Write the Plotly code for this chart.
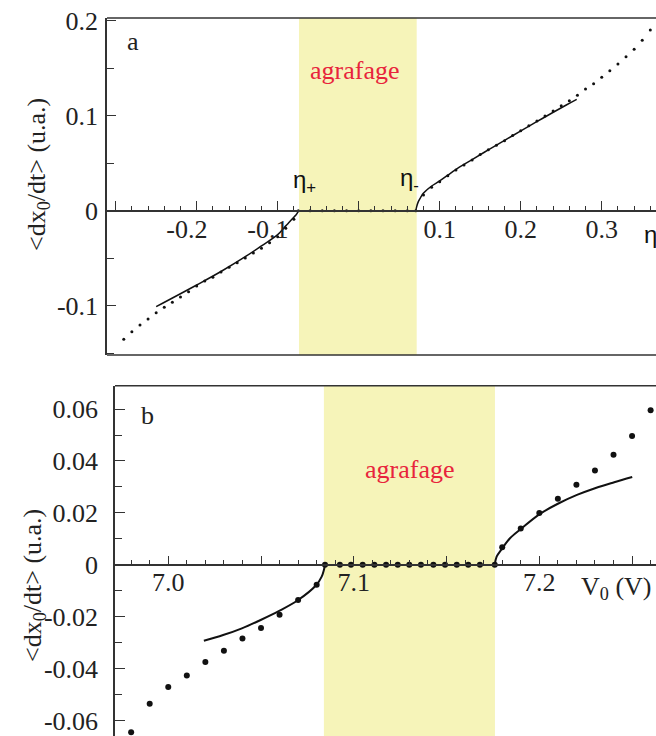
import plotly.graph_objects as go

# ---------------- data: panel a (eta) ----------------
a_dots_eta = [-0.29, -0.28, -0.27, -0.26, -0.25, -0.24, -0.23, -0.22, -0.21, -0.20,
              -0.19, -0.18, -0.17, -0.16, -0.15, -0.14, -0.13, -0.12, -0.11, -0.10,
              -0.09, -0.08, -0.0745,
              -0.06, -0.045, -0.03, -0.015, 0.0, 0.015, 0.03, 0.045, 0.06, 0.0705,
              0.08, 0.09, 0.10, 0.11, 0.12, 0.13, 0.14, 0.15, 0.16, 0.17, 0.18, 0.19,
              0.20, 0.21, 0.22, 0.23, 0.24, 0.25, 0.26, 0.27, 0.28, 0.29, 0.30, 0.31,
              0.32, 0.33, 0.34, 0.35, 0.36]
a_dots_v = [-0.1354, -0.1274, -0.1203, -0.1140, -0.1074, -0.1017, -0.0964, -0.0908, -0.0853, -0.0793,
            -0.0740, -0.0701, -0.0645, -0.0596, -0.0547, -0.0498, -0.0445, -0.0396, -0.0337, -0.0274,
            -0.0185, -0.0090, 0.0,
            0.0, 0.0, 0.0, 0.0, 0.0, 0.0, 0.0, 0.0, 0.0, 0.0,
            0.0165, 0.0246, 0.0305, 0.0368, 0.0428, 0.0481, 0.0534, 0.0590, 0.0642, 0.0688, 0.0737, 0.0790,
            0.0842, 0.0895, 0.0944, 0.0997, 0.1049, 0.1105, 0.1158, 0.1215, 0.1281, 0.1337, 0.1404, 0.1474,
            0.1544, 0.1621, 0.1699, 0.1794, 0.1902]

a_fit_left_eta = [-0.25, -0.20, -0.17, -0.14, -0.12, -0.10, -0.09, -0.085, -0.08, -0.077, -0.0755, -0.0745]
a_fit_left_v = [-0.1010, -0.0782, -0.0640, -0.0484, -0.0370, -0.0252, -0.0160, -0.0115, -0.0068, -0.0040, -0.0020, 0.0]
a_fit_right_eta = [0.0705, 0.0715, 0.0736, 0.0765, 0.0798, 0.0901, 0.1004, 0.1189, 0.1395, 0.1600,
                   0.1806, 0.1991, 0.2198, 0.2402, 0.2568, 0.2691]
a_fit_right_v = [0.0, 0.0040, 0.0095, 0.0140, 0.0183, 0.0260, 0.0316, 0.0428, 0.0535, 0.0640,
                 0.0742, 0.0835, 0.0937, 0.1036, 0.1115, 0.1172]
a_eta_plus, a_eta_minus = -0.0737, 0.0716

NB = "\u00a0\u00a0\u00a0"
a_xtick_vals = [-0.3, -0.2, -0.1, 0.0, 0.1, 0.2, 0.3]
a_xtick_text = ["", "-0.2" + NB, "-0.1" + NB, "", "0.1", "0.2", "0.3"]
a_ytick_vals = [0.2, 0.1, 0.0, -0.1]
a_ytick_text = ["0.2", "0.1", "0", "-0.1"]

# ---------------- data: panel b (V0) ----------------
b_dots_V = [6.98, 6.99, 7.00, 7.01, 7.02, 7.03, 7.04, 7.05, 7.06, 7.07, 7.08, 7.0845,
            7.0925, 7.0985, 7.1048, 7.1111, 7.1174, 7.1237, 7.1299, 7.1362, 7.1429, 7.1492,
            7.1555, 7.1617, 7.1680, 7.1760,
            7.18, 7.19, 7.20, 7.21, 7.22, 7.23, 7.24, 7.25, 7.26]
b_dots_v = [-0.0646, -0.0536, -0.0471, -0.0427, -0.0375, -0.0331, -0.0284, -0.0244, -0.0193, -0.0136, -0.0077, 0.0,
            0.0, 0.0, 0.0, 0.0, 0.0, 0.0, 0.0, 0.0, 0.0, 0.0,
            0.0, 0.0, 0.0, 0.0,
            0.0067, 0.0140, 0.0199, 0.0254, 0.0308, 0.0363, 0.0424, 0.0496, 0.0595]

b_fit_left_V = [7.0192, 7.0296, 7.0397, 7.0498, 7.0598, 7.0698, 7.0798, 7.0827, 7.0839, 7.0845]
b_fit_left_v = [-0.0293, -0.0271, -0.0245, -0.0213, -0.0178, -0.0137, -0.0078, -0.0046, -0.0020, 0.0]
b_fit_right_V = [7.1760, 7.1770, 7.1800, 7.1842, 7.1901, 7.2002, 7.2100, 7.2203, 7.2304, 7.2404, 7.2501]
b_fit_right_v = [0.0, 0.0031, 0.0063, 0.0102, 0.0138, 0.0195, 0.0235, 0.0269, 0.0296, 0.0318, 0.0338]
b_V_plus, b_V_minus = 7.0839, 7.1761

b_xtick_vals = [7.0, 7.05, 7.1, 7.15, 7.2, 7.25]
b_xtick_text = ["7.0", "", "7.1", "", "7.2", ""]
b_ytick_vals = [0.06, 0.04, 0.02, 0.0, -0.02, -0.04, -0.06]
b_ytick_text = ["0.06", "0.04", "0.02", "0", "-0.02", "-0.04", "-0.06"]

# ---------------- layout geometry ----------------
W, H = 656, 736
def px(x):
    return x / W
def py(y):
    return 1 - y / H

SERIF = "Liberation Serif"
SANS = "Liberation Sans"
AX = "#333333"
YELLOW = "#f6f4b9"
RED = "#e8243c"
FS = 26

a_xrange = [-0.3107, 0.367]
a_yrange = [-0.1519, 0.2028]
b_xrange = [6.9713, 7.2629]
b_yrange = [-0.0660, 0.0690]

a_dom_x = [px(107), 1.0]
a_dom_y = [py(355), py(18)]
b_dom_x = [px(115), 1.0]
b_dom_y = [0.0, py(385.7)]

def zero_pos(dom, rng):
    return dom[0] + (dom[1] - dom[0]) * (0 - rng[0]) / (rng[1] - rng[0])

fig = go.Figure()

# panel a
fig.add_trace(go.Scatter(x=a_dots_eta, y=a_dots_v, mode="markers",
                         marker=dict(size=3, color="#111"), xaxis="x", yaxis="y", showlegend=False))
fig.add_trace(go.Scatter(x=a_fit_left_eta, y=a_fit_left_v, mode="lines",
                         line=dict(color="#111", width=1.5, shape="spline"), xaxis="x", yaxis="y", showlegend=False))
fig.add_trace(go.Scatter(x=a_fit_right_eta, y=a_fit_right_v, mode="lines",
                         line=dict(color="#111", width=1.5, shape="spline"), xaxis="x", yaxis="y", showlegend=False))
# panel b
fig.add_trace(go.Scatter(x=b_dots_V, y=b_dots_v, mode="markers",
                         marker=dict(size=6, color="#111"), xaxis="x2", yaxis="y2", showlegend=False))
fig.add_trace(go.Scatter(x=b_fit_left_V, y=b_fit_left_v, mode="lines",
                         line=dict(color="#111", width=2, shape="spline"), xaxis="x2", yaxis="y2", showlegend=False))
fig.add_trace(go.Scatter(x=b_fit_right_V, y=b_fit_right_v, mode="lines",
                         line=dict(color="#111", width=2, shape="spline"), xaxis="x2", yaxis="y2", showlegend=False))

tickfont = dict(family=SERIF, size=FS, color="#222")

fig.update_layout(
    width=W, height=H, autosize=False,
    margin=dict(l=0, r=0, t=0, b=0),
    font=dict(family=SERIF, size=FS, color="#222"),
    paper_bgcolor="white", plot_bgcolor="rgba(0,0,0,0)",
    xaxis=dict(domain=a_dom_x, range=a_xrange, anchor="free",
               position=zero_pos(a_dom_y, a_yrange),
               showline=True, linecolor=AX, linewidth=1.5, showgrid=False, zeroline=False,
               tickmode="array", tickvals=a_xtick_vals, ticktext=a_xtick_text,
               ticks="inside", ticklen=9, tickwidth=1, tickcolor=AX,
               minor=dict(tickmode="linear", tick0=0, dtick=0.02, ticks="inside", ticklen=4, tickwidth=1, tickcolor=AX),
               tickfont=tickfont, ticklabelstandoff=-5, automargin=False, fixedrange=True),
    yaxis=dict(domain=a_dom_y, range=a_yrange, anchor="x",
               showline=True, linecolor=AX, linewidth=1.5, showgrid=False, zeroline=False,
               tickmode="array", tickvals=a_ytick_vals, ticktext=a_ytick_text,
               ticks="inside", ticklen=9, tickwidth=1, tickcolor=AX,
               minor=dict(tickmode="linear", tick0=0, dtick=0.05, ticks="inside", ticklen=7, tickwidth=1, tickcolor=AX),
               tickfont=tickfont, ticklabelstandoff=2, automargin=False, fixedrange=True),
    xaxis2=dict(domain=b_dom_x, range=b_xrange, anchor="free",
                position=zero_pos(b_dom_y, b_yrange),
                showline=True, linecolor=AX, linewidth=1.5, showgrid=False, zeroline=False,
                tickmode="array", tickvals=b_xtick_vals, ticktext=b_xtick_text,
                ticks="inside", ticklen=8, tickwidth=1, tickcolor=AX,
                minor=dict(tickmode="linear", tick0=7.0, dtick=0.01, ticks="inside", ticklen=4, tickwidth=1, tickcolor=AX),
                tickfont=tickfont, ticklabelstandoff=-6, automargin=False, fixedrange=True),
    yaxis2=dict(domain=b_dom_y, range=b_yrange, anchor="x2",
                showline=True, linecolor=AX, linewidth=1.5, showgrid=False, zeroline=False,
                tickmode="array", tickvals=b_ytick_vals, ticktext=b_ytick_text,
                ticks="inside", ticklen=10, tickwidth=1, tickcolor=AX,
                minor=dict(tickmode="linear", tick0=0, dtick=0.01, ticks="inside", ticklen=7, tickwidth=1, tickcolor=AX),
                tickfont=tickfont, ticklabelstandoff=10, automargin=False, fixedrange=True),
)

# shaded "agrafage" regions and frame lines
fig.add_shape(type="rect", xref="x", yref="y domain", x0=a_eta_plus, x1=a_eta_minus, y0=0, y1=1,
              fillcolor=YELLOW, line=dict(width=0), layer="below")
fig.add_shape(type="rect", xref="x2", yref="y2 domain", x0=b_V_plus, x1=b_V_minus, y0=0, y1=1,
              fillcolor=YELLOW, line=dict(width=0), layer="below")
fig.add_shape(type="line", xref="x domain", yref="y domain", x0=0, x1=1, y0=1, y1=1,
              line=dict(color=AX, width=1.5))
fig.add_shape(type="line", xref="x domain", yref="y domain", x0=0, x1=1, y0=0, y1=0,
              line=dict(color=AX, width=1.5))
fig.add_shape(type="line", xref="x2 domain", yref="y2 domain", x0=0, x1=1, y0=1, y1=1,
              line=dict(color=AX, width=1.5))

ytitle = "&lt;dx<sub>0</sub>/dt&gt; (u.a.)"

def ann(x, y, text, font, xanchor="center", **kw):
    fig.add_annotation(x=px(x), y=py(y), xref="paper", yref="paper", text=text,
                       showarrow=False, font=font, xanchor=xanchor, yanchor="middle", **kw)

serif = dict(family=SERIF, size=FS, color="#222")
ann(38, 175, ytitle, serif, textangle=-90)
ann(34, 586, ytitle, serif, textangle=-90)
ann(133, 42, "a", serif)
ann(147, 416, "b", serif)
ann(354, 70, "agrafage", dict(family=SERIF, size=FS, color=RED))
ann(409, 469, "agrafage", dict(family=SERIF, size=FS, color=RED))
ann(616, 588, "V<sub>0</sub> (V)", serif)
sans = dict(family=SANS, size=24, color="#111")
ann(304, 181, "η<sub>+</sub>", sans)
ann(409, 180, "η<sub>-</sub>", sans)
ann(642, 234, "η", sans, xanchor="left")

fig.write_html("out.html")
